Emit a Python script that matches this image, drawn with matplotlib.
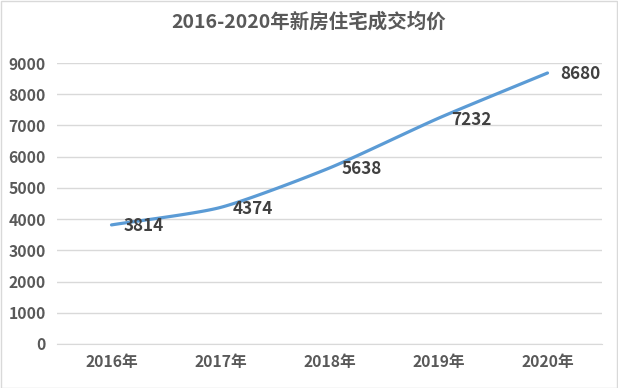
import matplotlib.pyplot as plt
import numpy as np
from matplotlib.patches import Rectangle

plt.rcParams['font.family'] = ['Noto Sans CJK SC', 'DejaVu Sans']

years = ["2016年", "2017年", "2018年", "2019年", "2020年"]
prices = [3814, 4374, 5638, 7232, 8680]
title = "2016-2020年新房住宅成交均价"

text_color = "#595959"
line_color = "#5B9BD5"
grid_color = "#D9D9D9"


def smooth(xs, ys, n=30, k=9):
    # Catmull-Rom style smoothing, similar to Excel's smoothed line
    xs = np.asarray(xs, float)
    ys = np.asarray(ys, float)
    px = np.concatenate([[2 * xs[0] - xs[1]], xs, [2 * xs[-1] - xs[-2]]])
    py = np.concatenate([[2 * ys[0] - ys[1]], ys, [2 * ys[-1] - ys[-2]]])
    out_x, out_y = [], []
    t = np.linspace(0, 1, n)
    for i in range(1, len(px) - 2):
        p0, p1, p2, p3 = px[i - 1], px[i], px[i + 1], px[i + 2]
        q0, q1, q2, q3 = py[i - 1], py[i], py[i + 1], py[i + 2]
        cx1, cy1 = p1 + (p2 - p0) / k, q1 + (q2 - q0) / k
        cx2, cy2 = p2 - (p3 - p1) / k, q2 - (q3 - q1) / k
        bx = (1 - t) ** 3 * p1 + 3 * (1 - t) ** 2 * t * cx1 + 3 * (1 - t) * t ** 2 * cx2 + t ** 3 * p2
        by = (1 - t) ** 3 * q1 + 3 * (1 - t) ** 2 * t * cy1 + 3 * (1 - t) * t ** 2 * cy2 + t ** 3 * q2
        out_x.extend(bx)
        out_y.extend(by)
    return out_x, out_y


fig = plt.figure(figsize=(6.18, 3.88), dpi=100)
ax = fig.add_axes([57 / 618, 1 - 344 / 388, 545 / 618, 281 / 388])

x = np.arange(len(years))
sx, sy = smooth(x, prices)
ax.plot(sx, sy, color=line_color, linewidth=2.3, solid_capstyle="round", zorder=3)

for xi, v in zip(x, prices):
    ax.annotate(str(v), (xi, v), xytext=(9, -1), textcoords="offset points",
                ha="left", va="center", fontsize=12.3, fontweight="bold",
                color="#404040", zorder=4)

ax.set_xlim(-0.5, len(years) - 0.5)
ax.set_ylim(0, 9000)
ax.set_yticks(range(0, 9001, 1000))
ax.set_xticks(x)
ax.set_xticklabels(years)
ax.grid(axis="y", color=grid_color, linewidth=1)
ax.set_axisbelow(True)
for s in ["top", "right", "left"]:
    ax.spines[s].set_visible(False)
ax.spines["bottom"].set_color(grid_color)
ax.tick_params(axis="both", length=0, labelsize=11.3, labelcolor=text_color)
ax.tick_params(axis="y", pad=8)
ax.tick_params(axis="x", pad=7)
for lab in ax.get_xticklabels() + ax.get_yticklabels():
    lab.set_fontweight("bold")

fig.text(0.5, 1 - 22 / 388, title, ha="center", va="center", fontsize=14,
         fontweight="bold", color=text_color)

fig.patches.append(Rectangle((0.5 / 618, 0.5 / 388), 1 - 1.5 / 618, 1 - 1.5 / 388,
                             transform=fig.transFigure, fill=False,
                             edgecolor="#D9D9D9", linewidth=1))

fig.savefig("out.png", dpi=100)
